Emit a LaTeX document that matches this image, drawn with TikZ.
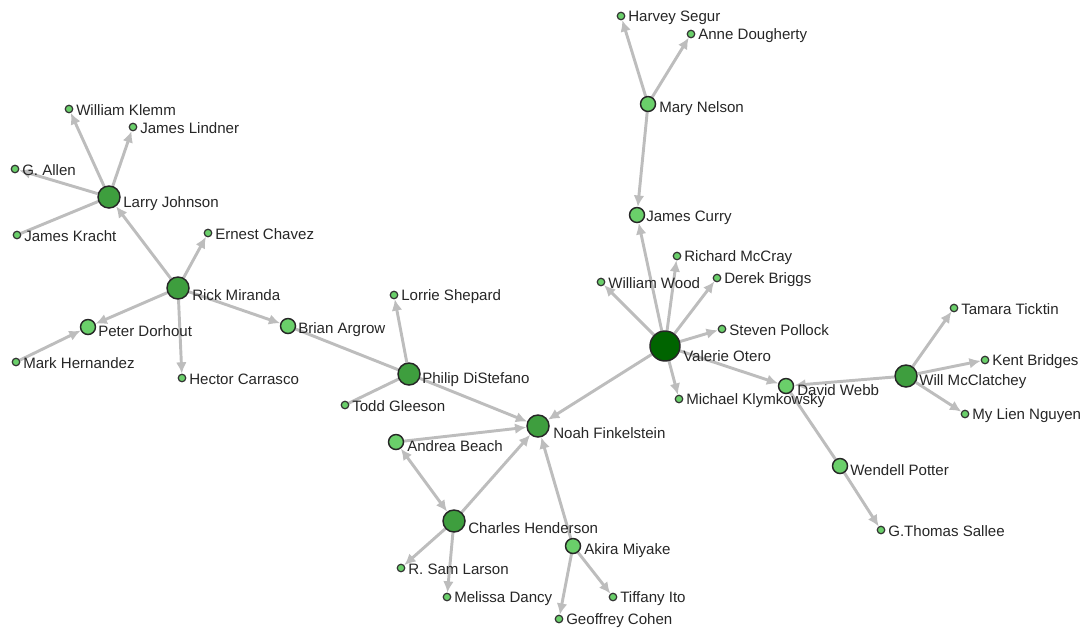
\documentclass[tikz,border=0pt]{standalone}
\usepackage{fontspec}
\setmainfont{Liberation Sans}
\usetikzlibrary{arrows.meta}
\pgfdeclarelayer{bg}
\pgfsetlayers{bg,main}
\definecolor{vdark}{HTML}{006400}
\definecolor{vmid}{HTML}{3E9E3E}
\definecolor{vlight}{HTML}{6ACF6A}
\definecolor{edgegray}{HTML}{BDBDBD}
\newcommand{\pxu}{pt*0.75}
\tikzset{
  pnode/.style={circle,draw=black!85,line width=1.1pt,inner sep=0pt,minimum size=#1},
  big/.style={pnode=30\pxu,fill=vdark},
  mid/.style={pnode=22\pxu,fill=vmid},
  lite/.style={pnode=15\pxu,fill=vlight},
  leaf/.style={circle,draw=black!80,line width=0.9pt,inner sep=0pt,minimum size=7.5\pxu,fill=vlight},
  lbl/.style={anchor=west,inner sep=0pt,font=\fontsize{11.3}{13}\selectfont,text=black!85},
  edge/.style={draw=edgegray,line width=2.2pt},
  arr/.style={edge,-{Latex[length=8.5pt,width=8pt]}},
  both/.style={edge,{Latex[length=8.5pt,width=8pt]}-{Latex[length=8.5pt,width=8pt]}},
}
% \pn{name}{style}{x}{y}{radius}{label}
\newcommand{\pn}[6]{%
  \node[#2] (#1) at (#3,#4) {};
  \node[lbl] (#1-l) at (#3+#5+3,#4+0.75*#5-1.5) {#6};
}
\begin{document}
\begin{tikzpicture}[x=0.75pt,y=-0.75pt]
\useasboundingbox (0,0) rectangle (1084,629);
% nodes
\pn{harvey}{leaf}{621}{16}{4}{Harvey Segur}
\pn{anne}{leaf}{691}{34}{4}{Anne Dougherty}
\pn{mary}{lite}{648}{104}{8}{Mary Nelson}
\pn{curry}{lite}{637}{215}{6}{James Curry}
\pn{richard}{leaf}{677}{256}{4}{Richard McCray}
\pn{wood}{leaf}{601}{282}{4}{William Wood}
\pn{derek}{leaf}{717}{278}{4}{Derek Briggs}
\pn{steven}{leaf}{722}{329}{4}{Steven Pollock}
\pn{valerie}{big}{665}{346}{15}{Valerie Otero}
\pn{michael}{leaf}{679}{399}{4}{Michael Klymkowsky}
\pn{webb}{lite}{786}{386}{8}{David Webb}
\pn{will}{mid}{906}{376}{10}{Will McClatchey}
\pn{tamara}{leaf}{954}{308}{4}{Tamara Ticktin}
\pn{kent}{leaf}{985}{360}{4}{Kent Bridges}
\pn{mylien}{leaf}{965}{414}{4}{My Lien Nguyen}
\pn{wendell}{lite}{840}{466}{7}{Wendell Potter}
\pn{sallee}{leaf}{881}{530}{4}{G.Thomas Sallee}
\pn{klemm}{leaf}{69}{109}{4}{William Klemm}
\pn{lindner}{leaf}{133}{127}{4}{James Lindner}
\pn{allen}{leaf}{15}{169}{4}{G. Allen}
\pn{larry}{mid}{109}{197}{11}{Larry Johnson}
\pn{kracht}{leaf}{17}{235}{4}{James Kracht}
\pn{ernest}{leaf}{208}{233}{4}{Ernest Chavez}
\pn{rick}{mid}{178}{288}{11}{Rick Miranda}
\pn{peter}{lite}{88}{327}{7}{Peter Dorhout}
\pn{mark}{leaf}{16}{362}{4}{Mark Hernandez}
\pn{hector}{leaf}{182}{378}{4}{Hector Carrasco}
\pn{brian}{lite}{288}{326}{7}{Brian Argrow}
\pn{lorrie}{leaf}{394}{295}{4}{Lorrie Shepard}
\pn{philip}{mid}{409}{374}{10}{Philip DiStefano}
\pn{todd}{leaf}{345}{405}{4}{Todd Gleeson}
\pn{noah}{mid}{538}{426}{12}{Noah Finkelstein}
\pn{andrea}{lite}{396}{442}{8}{Andrea Beach}
\pn{charles}{mid}{454}{521}{11}{Charles Henderson}
\pn{akira}{lite}{573}{546}{8}{Akira Miyake}
\pn{sam}{leaf}{401}{568}{4}{R. Sam Larson}
\pn{melissa}{leaf}{447}{597}{4}{Melissa Dancy}
\pn{tiffany}{leaf}{613}{597}{4}{Tiffany Ito}
\pn{geoffrey}{leaf}{559}{619}{4}{Geoffrey Cohen}
% edges
\begin{pgfonlayer}{bg}
\draw[arr] (mary) -- (harvey);
\draw[arr] (mary) -- (anne);
\draw[arr] (mary) -- (curry);
\draw[arr] (valerie) -- (curry);
\draw[arr] (valerie) -- (richard);
\draw[arr] (valerie) -- (wood);
\draw[arr] (valerie) -- (derek);
\draw[arr] (valerie) -- (steven);
\draw[arr] (valerie) -- (michael);
\draw[arr] (valerie) -- (webb);
\draw[arr] (valerie) -- (noah);
\draw[arr] (will) -- (webb);
\draw[arr] (will) -- (tamara);
\draw[arr] (will) -- (kent);
\draw[arr] (will) -- (mylien);
\draw[edge] (webb) -- (wendell);
\draw[arr] (wendell) -- (sallee);
\draw[arr] (larry) -- (klemm);
\draw[arr] (larry) -- (lindner);
\draw[arr] (larry) -- (allen);
\draw[edge] (larry) -- (kracht);
\draw[arr] (rick) -- (larry);
\draw[arr] (rick) -- (ernest);
\draw[arr] (rick) -- (peter);
\draw[arr] (rick) -- (hector);
\draw[arr] (rick) -- (brian);
\draw[arr] (mark) -- (peter);
\draw[edge] (brian) -- (philip);
\draw[arr] (philip) -- (lorrie);
\draw[edge] (todd) -- (philip);
\draw[arr] (philip) -- (noah);
\draw[arr] (andrea) -- (noah);
\draw[both] (andrea) -- (charles);
\draw[arr] (charles) -- (noah);
\draw[arr] (akira) -- (noah);
\draw[arr] (charles) -- (sam);
\draw[arr] (charles) -- (melissa);
\draw[arr] (akira) -- (tiffany);
\draw[arr] (akira) -- (geoffrey);
\end{pgfonlayer}
\end{tikzpicture}
\end{document}
